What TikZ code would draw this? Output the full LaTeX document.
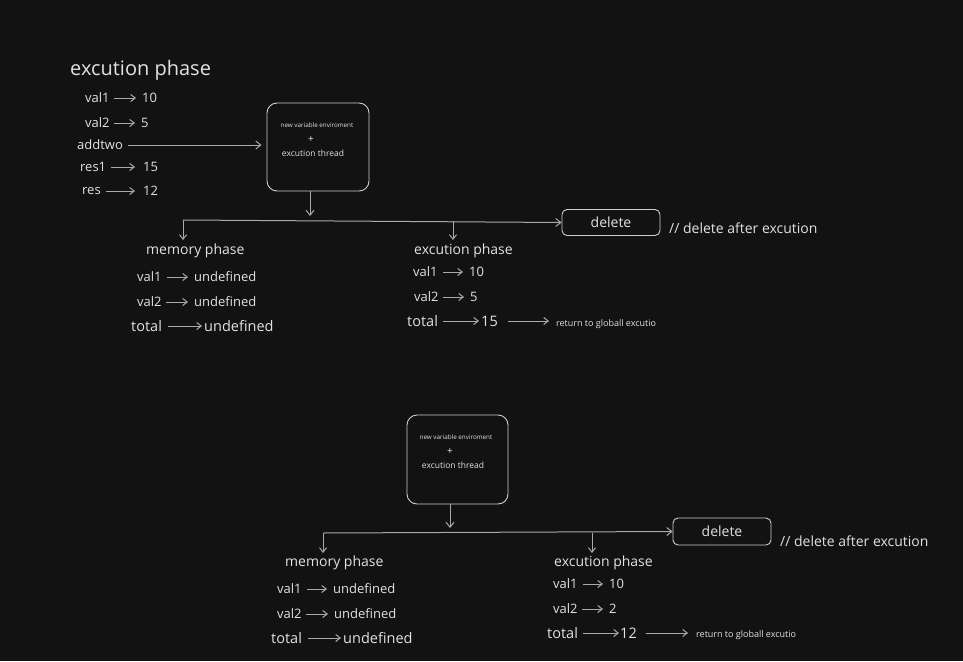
\documentclass[tikz,border=0pt]{standalone}
\usepackage{fontspec}
\setmainfont{Open Sans}
\usetikzlibrary{arrows.meta,calc}
\definecolor{bg}{HTML}{121212}
\definecolor{txt}{HTML}{E2E2E2}
\definecolor{ln}{HTML}{AAAAAA}
\definecolor{bx}{HTML}{CFCFCF}
\tikzset{
  lbl/.style={anchor=west,inner sep=0pt,text=txt,font=\fontsize{13}{15}\selectfont},
  lblb/.style={anchor=west,inner sep=0pt,text=txt,font=\fontsize{14.5}{16}\selectfont},
  ph/.style={anchor=west,inner sep=0pt,text=txt,font=\fontsize{14}{16}\selectfont},
  ttl/.style={anchor=west,inner sep=0pt,text=txt,font=\fontsize{20}{22}\selectfont},
  tinyt/.style={inner sep=0pt,text=txt,font=\fontsize{6.3}{7}\selectfont},
  smallt/.style={inner sep=0pt,text=txt,font=\fontsize{8.5}{9}\selectfont},
  plust/.style={inner sep=0pt,text=txt,font=\fontsize{10}{10}\selectfont},
  rett/.style={anchor=west,inner sep=0pt,text=txt,font=\fontsize{9}{10}\selectfont},
  bigbox/.style={draw=bx,line width=0.9pt,rounded corners=10pt,minimum width=102pt,minimum height=88pt,inner sep=0pt},
  delbox/.style={draw=bx,line width=0.9pt,rounded corners=5pt,minimum width=98pt,minimum height=26pt,inner sep=0pt,text=txt,font=\fontsize{14}{16}\selectfont},
  arr/.style={draw=ln,line width=1pt,-{Straight Barb[length=5pt,width=8pt]}},
  sarr/.style={draw=ln,line width=1pt,-{Straight Barb[length=4.5pt,width=7pt]}},
  plain/.style={draw=ln,line width=1pt}
}
\begin{document}
\begin{tikzpicture}[x=1pt,y=-1pt]
\fill[bg] (0,0) rectangle (963,661);
\useasboundingbox (0,0) rectangle (963,661);

% ---------- top left list ----------
\node[ttl] (title) at (70,70) {excution phase};
\node[lbl] (a1) at (85,98) {val1};   \node[lbl] (b1) at (142,98) {10};
\node[lbl] (a2) at (85,123) {val2};  \node[lbl] (b2) at (141,123) {5};
\node[lbl] (a3) at (77,145) {addtwo};
\node[lbl] (a4) at (80,167) {res1};  \node[lbl] (b4) at (143,167) {15};
\node[lbl] (a5) at (82,191) {res};   \node[lbl] (b5) at (143,191) {12};
\draw[sarr,shorten <=4pt,shorten >=6pt] (a1.east) -- (b1.west);
\draw[sarr,shorten <=4pt,shorten >=6pt] (a2.east) -- (b2.west);
\draw[sarr,shorten <=5pt,shorten >=8pt] (a4.east) -- (b4.west);
\draw[sarr,shorten <=5pt,shorten >=8pt] (a5.east) -- (b5.west);

% ---------- top box ----------
\node[bigbox] (box1) at (318,147) {};
\node[tinyt] (t1) at (317,125) {new variable enviroment};
\node[plust] (t2) at (311,140) {+};
\node[smallt] (t3) at (313,153) {excution thread};
\draw[arr,shorten <=5pt,shorten >=5pt] (a3.east) -- (a3.east -| box1.west);

\coordinate (s1) at (183,220);
\coordinate (s2) at (453,220.5);
\coordinate (d1) at (183,240);
\coordinate (d2) at (453,240);
\coordinate (o1) at ([xshift=-8pt]box1.south);
\node[delbox] (del1) at (611,222.5) {delete};
\node[ph] (c1) at (669,228) {// delete after excution};
\draw[arr,shorten >=4pt] (o1) -- (o1 |- s1);
\draw[arr] (s1) -- (del1.west);
\draw[sarr] (s1) -- (d1);
\draw[sarr] (s2) -- (d2);

% ---------- top memory phase ----------
\node[ph] (mp1) at (146,251) {memory phase};
\node[lbl] (m1a) at (137,277) {val1};  \node[lbl] (m1b) at (194,277) {undefined};
\node[lbl] (m2a) at (137,302) {val2};  \node[lbl] (m2b) at (194,302) {undefined};
\node[lblb] (m3a) at (131,326) {total}; \node[lblb] (m3b) at (204,326) {undefined};
\draw[sarr,shorten <=5pt,shorten >=6pt] (m1a.east) -- (m1b.west);
\draw[sarr,shorten <=4pt,shorten >=6pt] (m2a.east) -- (m2b.west);
\draw[sarr,shorten <=6pt,shorten >=2pt] (m3a.east) -- (m3b.west);

% ---------- top execution phase ----------
\node[ph] (ep1) at (414,251) {excution phase};
\node[lbl] (e1a) at (413,272) {val1};  \node[lbl] (e1b) at (469,272) {10};
\node[lbl] (e2a) at (414,297) {val2};  \node[lbl] (e2b) at (470,297) {5};
\node[lblb] (e3a) at (407,321) {total}; \node[lblb] (e3b) at (481,321) {15};
\node[rett] (r1) at (556,324) {return to globall excutio};
\draw[sarr,shorten <=5pt,shorten >=6pt] (e1a.east) -- (e1b.west);
\draw[sarr,shorten <=4pt,shorten >=6pt] (e2a.east) -- (e2b.west);
\draw[sarr,shorten <=5pt,shorten >=2pt] (e3a.east) -- (e3b.west);
\draw[sarr,shorten <=10pt,shorten >=7pt] (e3b.east) -- (e3b.east -| r1.west);

% ---------- bottom box ----------
\node[bigbox,minimum width=101pt,minimum height=89pt] (box2) at (457.5,459.5) {};
\node[tinyt] (u1) at (456,437) {new variable enviroment};
\node[plust] (u2) at (450,452) {+};
\node[smallt] (u3) at (453,465) {excution thread};

\coordinate (s3) at (323,533);
\coordinate (s4) at (592,533);
\coordinate (d3) at (323,553);
\coordinate (d4) at (592,553);
\coordinate (o2) at ([xshift=-7.5pt]box2.south);
\node[delbox,minimum height=27pt] (del2) at (722,531.5) {delete};
\node[ph] (c2) at (780,541) {// delete after excution};
\draw[arr,shorten >=5pt] (o2) -- (o2 |- s3);
\draw[arr] (s3) -- (del2.west);
\draw[sarr] (s3) -- (d3);
\draw[sarr] (s4) -- (d4);

% ---------- bottom memory phase ----------
\node[ph] (mp2) at (285,563) {memory phase};
\node[lbl] (n1a) at (277,589) {val1};  \node[lbl] (n1b) at (333,589) {undefined};
\node[lbl] (n2a) at (277,614) {val2};  \node[lbl] (n2b) at (334,614) {undefined};
\node[lblb] (n3a) at (271,638) {total}; \node[lblb] (n3b) at (343,638) {undefined};
\draw[sarr,shorten <=5pt,shorten >=6pt] (n1a.east) -- (n1b.west);
\draw[sarr,shorten <=4pt,shorten >=6pt] (n2a.east) -- (n2b.west);
\draw[sarr,shorten <=6pt,shorten >=2pt] (n3a.east) -- (n3b.west);

% ---------- bottom execution phase ----------
\node[ph] (ep2) at (554,563) {excution phase};
\node[lbl] (f1a) at (553,584) {val1};  \node[lbl] (f1b) at (609,584) {10};
\node[lbl] (f2a) at (553,609) {val2};  \node[lbl] (f2b) at (609,609) {2};
\node[lblb] (f3a) at (547,633) {total}; \node[lblb] (f3b) at (620,633) {12};
\node[rett] (r2) at (696,635) {return to globall excutio};
\draw[sarr,shorten <=5pt,shorten >=6pt] (f1a.east) -- (f1b.west);
\draw[sarr,shorten <=4pt,shorten >=6pt] (f2a.east) -- (f2b.west);
\draw[sarr,shorten <=5pt,shorten >=1pt] (f3a.east) -- (f3b.west);
\draw[sarr,shorten <=9pt,shorten >=8pt] (f3b.east) -- (f3b.east -| r2.west);
\end{tikzpicture}
\end{document}
